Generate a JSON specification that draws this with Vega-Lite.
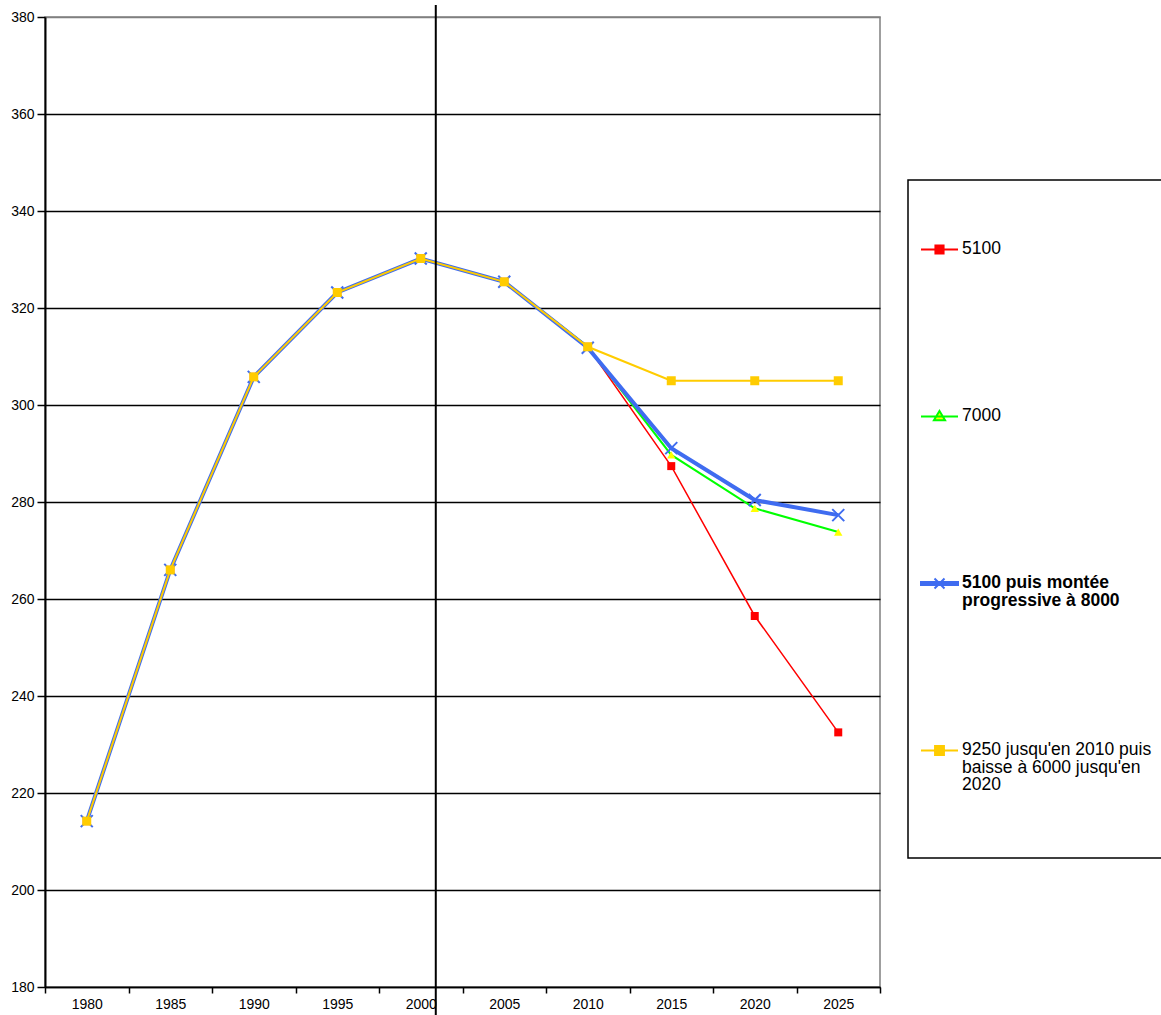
{
  "$schema": "https://vega.github.io/schema/vega-lite/v6.json",
  "width": 835,
  "height": 970,
  "autosize": {"type": "none"},
  "padding": {"left": 45, "top": 17, "right": 281, "bottom": 28},
  "background": "white",
  "config": {
    "font": "Liberation Sans",
    "view": {"stroke": "#808080", "strokeWidth": 1.5},
    "axis": {"labelFontSize": 14, "labelColor": "black", "tickColor": "black", "domainColor": "black", "labelFont": "Liberation Sans"}
  },
  "datasets": {
    "series": [
      {"series": "5100", "year": 1980, "value": 214.2},
      {"series": "5100", "year": 1985, "value": 266.0},
      {"series": "5100", "year": 1990, "value": 305.8},
      {"series": "5100", "year": 1995, "value": 323.2},
      {"series": "5100", "year": 2000, "value": 330.2},
      {"series": "5100", "year": 2005, "value": 325.4},
      {"series": "5100", "year": 2010, "value": 312.0},
      {"series": "5100", "year": 2015, "value": 287.4},
      {"series": "5100", "year": 2020, "value": 256.5},
      {"series": "5100", "year": 2025, "value": 232.5},
      {"series": "7000", "year": 1980, "value": 214.2},
      {"series": "7000", "year": 1985, "value": 266.0},
      {"series": "7000", "year": 1990, "value": 305.8},
      {"series": "7000", "year": 1995, "value": 323.2},
      {"series": "7000", "year": 2000, "value": 330.2},
      {"series": "7000", "year": 2005, "value": 325.4},
      {"series": "7000", "year": 2010, "value": 312.0},
      {"series": "7000", "year": 2015, "value": 289.7},
      {"series": "7000", "year": 2020, "value": 278.7},
      {"series": "7000", "year": 2025, "value": 273.8},
      {"series": "5100 puis montée progressive à 8000", "year": 1980, "value": 214.2},
      {"series": "5100 puis montée progressive à 8000", "year": 1985, "value": 266.0},
      {"series": "5100 puis montée progressive à 8000", "year": 1990, "value": 305.8},
      {"series": "5100 puis montée progressive à 8000", "year": 1995, "value": 323.2},
      {"series": "5100 puis montée progressive à 8000", "year": 2000, "value": 330.2},
      {"series": "5100 puis montée progressive à 8000", "year": 2005, "value": 325.4},
      {"series": "5100 puis montée progressive à 8000", "year": 2010, "value": 311.8},
      {"series": "5100 puis montée progressive à 8000", "year": 2015, "value": 291.1},
      {"series": "5100 puis montée progressive à 8000", "year": 2020, "value": 280.4},
      {"series": "5100 puis montée progressive à 8000", "year": 2025, "value": 277.3},
      {"series": "9250 jusqu'en 2010 puis baisse à 6000 jusqu'en 2020", "year": 1980, "value": 214.2},
      {"series": "9250 jusqu'en 2010 puis baisse à 6000 jusqu'en 2020", "year": 1985, "value": 266.0},
      {"series": "9250 jusqu'en 2010 puis baisse à 6000 jusqu'en 2020", "year": 1990, "value": 305.8},
      {"series": "9250 jusqu'en 2010 puis baisse à 6000 jusqu'en 2020", "year": 1995, "value": 323.2},
      {"series": "9250 jusqu'en 2010 puis baisse à 6000 jusqu'en 2020", "year": 2000, "value": 330.2},
      {"series": "9250 jusqu'en 2010 puis baisse à 6000 jusqu'en 2020", "year": 2005, "value": 325.4},
      {"series": "9250 jusqu'en 2010 puis baisse à 6000 jusqu'en 2020", "year": 2010, "value": 312.0},
      {"series": "9250 jusqu'en 2010 puis baisse à 6000 jusqu'en 2020", "year": 2015, "value": 305.0},
      {"series": "9250 jusqu'en 2010 puis baisse à 6000 jusqu'en 2020", "year": 2020, "value": 305.0},
      {"series": "9250 jusqu'en 2010 puis baisse à 6000 jusqu'en 2020", "year": 2025, "value": 305.0}
    ],
    "marker": [{"year": 2000, "top": 382.5, "bottom": 174}]
  },
  "layer": [
    {
      "data": {"name": "series"},
      "transform": [{"filter": "datum.series == '5100'"}],
      "mark": {"type": "line", "strokeWidth": 1.5},
      "encoding": {
        "x": {
          "field": "year", "type": "ordinal", "bandPosition": 0.5,
          "scale": {"type": "band", "paddingInner": 0, "paddingOuter": 0},
          "axis": {
            "title": null, "tickBand": "extent", "labelAngle": 0, "labelFontSize": 14,
            "labelColor": "black", "tickColor": "black", "domainColor": "black",
            "domainWidth": 1.5, "tickWidth": 1.5, "tickSize": 6, "labelPadding": 4, "grid": false
          }
        },
        "y": {
          "field": "value", "type": "quantitative",
          "scale": {"domain": [180, 380], "nice": false, "zero": false},
          "axis": {
            "title": null, "values": [180, 200, 220, 240, 260, 280, 300, 320, 340, 360, 380],
            "labelFontSize": 14, "labelColor": "black", "tickSize": 8, "labelPadding": 3,
            "grid": true,
            "gridColor": {"condition": {"test": "datum.value == 380", "value": "#808080"}, "value": "black"},
            "gridWidth": 1.5, "domainColor": "black", "domainWidth": 2, "tickColor": "black", "tickWidth": 1.5
          }
        },
        "color": {
          "field": "series", "type": "nominal",
          "scale": {
            "domain": ["5100", "7000", "5100 puis montée progressive à 8000", "9250 jusqu'en 2010 puis baisse à 6000 jusqu'en 2020"],
            "range": ["#FF0000", "#00FF00", "#3F6CF0", "#FFCC00"]
          },
          "legend": {
            "orient": "none", "legendX": 863, "legendY": 163,
            "title": " ",
            "titleFontSize": 20, "titlePadding": 18,
            "padding": 12, "strokeColor": "black", "fillColor": "white",
            "symbolSize": 1369, "symbolStrokeWidth": 2, "labelFontSize": 17.5, "labelBaseline": "top", "labelOffset": 3,
            "rowPadding": 52, "labelLimit": 400, "labelColor": "black",
            "labelExpr": "datum.label == '5100 puis montée progressive à 8000' ? ['5100 puis montée', 'progressive à 8000', ' ', ' ', ' ', ' '] : datum.label == \"9250 jusqu'en 2010 puis baisse à 6000 jusqu'en 2020\" ? [\"9250 jusqu'en 2010 puis\", \"baisse à 6000 jusqu'en\", '2020', ' ', ' ', ' '] : [datum.label, ' ', ' ', ' ', ' ', ' ']",
            "encode": {
              "legend": {"update": {"strokeWidth": {"value": 1.5}}},
              "symbols": {
                "update": {
                  "shape": {"signal": "datum.value == '5100' ? 'M-1,0H1M-0.22,-0.22H0.22V0.22H-0.22Z' : datum.value == '7000' ? 'M-1,0H1M0,-0.3L0.3,0.2H-0.3Z' : datum.value == '5100 puis montée progressive à 8000' ? 'M-1,-0.08H1V0.08H-1ZM-0.27,-0.27L0.27,0.27M-0.27,0.27L0.27,-0.27' : 'M-1,0H1M-0.24,-0.24H0.24V0.24H-0.24Z'"},
                  "fill": {"signal": "datum.value == '5100' ? '#FF0000' : datum.value == '7000' ? '#FFFF00' : datum.value == '5100 puis montée progressive à 8000' ? '#3F6CF0' : '#FFCC00'"},
                  "stroke": {"signal": "datum.value == '5100' ? '#FF0000' : datum.value == '7000' ? '#00FF00' : datum.value == '5100 puis montée progressive à 8000' ? '#3F6CF0' : '#FFCC00'"},
                  "strokeWidth": {"value": 2},
                  "opacity": {"value": 1}
                }
              },
              "labels": {
                "update": {
                  "fontWeight": {"signal": "datum.value == '5100 puis montée progressive à 8000' ? 'bold' : 'normal'"},
                  "dy": {"value": -9.5},
                  "lineHeight": {"value": 17.5}
                }
              }
            }
          }
        }
      }
    },
    {
      "data": {"name": "series"},
      "transform": [{"filter": "datum.series == '5100'"}],
      "mark": {"type": "point", "shape": "square", "filled": true, "color": "#FF0000", "size": 64, "opacity": 1},
      "encoding": {
        "x": {"field": "year", "type": "ordinal", "bandPosition": 0.5, "title": null},
        "y": {"field": "value", "type": "quantitative", "title": null}
      }
    },
    {
      "data": {"name": "series"},
      "transform": [{"filter": "datum.series == '7000'"}],
      "mark": {"type": "line", "color": "#00FF00", "strokeWidth": 2},
      "encoding": {
        "x": {"field": "year", "type": "ordinal", "bandPosition": 0.5, "title": null},
        "y": {"field": "value", "type": "quantitative", "title": null}
      }
    },
    {
      "data": {"name": "series"},
      "transform": [{"filter": "datum.series == '7000'"}],
      "mark": {"type": "point", "shape": "triangle-up", "filled": true, "color": "#FFFF00", "size": 70, "opacity": 1},
      "encoding": {
        "x": {"field": "year", "type": "ordinal", "bandPosition": 0.5, "title": null},
        "y": {"field": "value", "type": "quantitative", "title": null}
      }
    },
    {
      "data": {"name": "series"},
      "transform": [{"filter": "datum.series == '5100 puis montée progressive à 8000'"}],
      "mark": {"type": "line", "color": "#3F6CF0", "strokeWidth": 4},
      "encoding": {
        "x": {"field": "year", "type": "ordinal", "bandPosition": 0.5, "title": null},
        "y": {"field": "value", "type": "quantitative", "title": null}
      }
    },
    {
      "data": {"name": "series"},
      "transform": [{"filter": "datum.series == '5100 puis montée progressive à 8000'"}],
      "mark": {"type": "point", "shape": "M-1,-1L1,1M-1,1L1,-1", "filled": false, "stroke": "#3F6CF0", "strokeWidth": 2, "size": 144, "opacity": 1},
      "encoding": {
        "x": {"field": "year", "type": "ordinal", "bandPosition": 0.5, "title": null},
        "y": {"field": "value", "type": "quantitative", "title": null}
      }
    },
    {
      "data": {"name": "series"},
      "transform": [{"filter": "datum.series == \"9250 jusqu'en 2010 puis baisse à 6000 jusqu'en 2020\""}],
      "mark": {"type": "line", "color": "#FFCC00", "strokeWidth": 2},
      "encoding": {
        "x": {"field": "year", "type": "ordinal", "bandPosition": 0.5, "title": null},
        "y": {"field": "value", "type": "quantitative", "title": null}
      }
    },
    {
      "data": {"name": "series"},
      "transform": [{"filter": "datum.series == \"9250 jusqu'en 2010 puis baisse à 6000 jusqu'en 2020\""}],
      "mark": {"type": "point", "shape": "square", "filled": true, "color": "#FFCC00", "size": 81, "opacity": 1},
      "encoding": {
        "x": {"field": "year", "type": "ordinal", "bandPosition": 0.5, "title": null},
        "y": {"field": "value", "type": "quantitative", "title": null}
      }
    },
    {
      "data": {"name": "marker"},
      "mark": {"type": "rule", "color": "black", "strokeWidth": 2, "clip": false},
      "encoding": {
        "x": {"field": "year", "type": "ordinal", "bandPosition": 0.68, "title": null},
        "y": {"field": "top", "type": "quantitative", "title": null},
        "y2": {"field": "bottom"}
      }
    }
  ]
}
